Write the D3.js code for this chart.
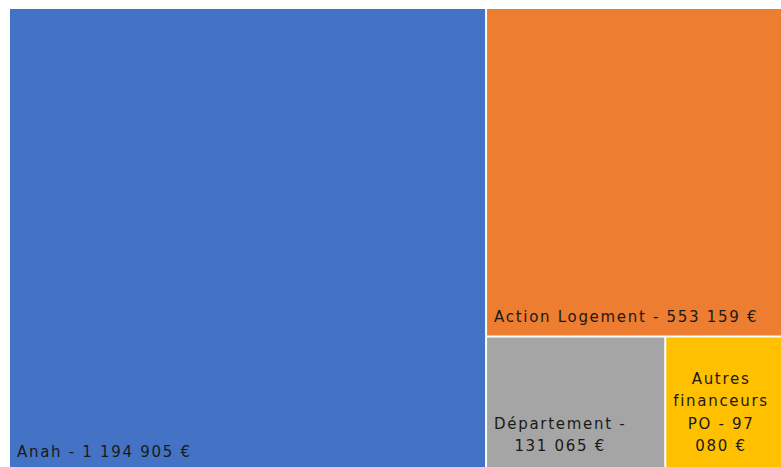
<!DOCTYPE html>
<html><head><meta charset="utf-8">
<script src="https://cdn.jsdelivr.net/npm/d3@7"></script>
<style>
html,body{margin:0;padding:0;background:#fff;overflow:hidden;}
svg{display:block;}
</style></head>
<body>
<svg id="chart" width="781" height="467"></svg>
<script>
const categories = ["Anah", "Action Logement", "Département", "Autres financeurs PO"];
const values = [1194905, 553159, 131065, 97080];
const colors = ["#4472C4", "#ED7D31", "#A5A5A5", "#FFC000"];
const labelLines = [
  ["Anah - 1 194 905 €"],
  ["Action Logement - 553 159 €"],
  ["Département -", "131 065 €"],
  ["Autres", "financeurs", "PO - 97", "080 €"]
];

(function() {
const svg = d3.select("#chart");
const W = 787, H = 462, marginLeft = 10, marginTop = 9;

const root = d3.hierarchy({children: categories.map((c, i) => ({name: c, value: values[i], i}))})
  .sum(d => d.value || 0);
d3.treemap().size([W, H]).tile(d3.treemapSquarify).paddingInner(2).round(false)(root);

const g = svg.append("g").attr("transform", `translate(${marginLeft},${marginTop})`);
const leaves = g.selectAll("g.leaf").data(root.leaves()).join("g").attr("class", "leaf");

leaves.append("rect")
  .attr("x", d => d.x0).attr("y", d => d.y0)
  .attr("width", d => d.x1 - d.x0).attr("height", d => d.y1 - d.y0)
  .attr("fill", d => colors[d.data.i]);

const lineH = 22.5;
leaves.each(function(d) {
  const lines = labelLines[d.data.i];
  const sel = d3.select(this);
  const t = sel.append("text")
    .attr("font-family", "DejaVu Sans, sans-serif")
    .attr("font-size", 15)
    .attr("letter-spacing", "1.7px")
    .attr("fill", "#1a1a1a");
  const spans = lines.map((l) => t.append("tspan").text(l));
  const widths = spans.map(s => s.node().getComputedTextLength());
  const bw = d3.max(widths);
  const bx = d.x0 + 7;
  const lastBase = d.y1 - (lines.length > 1 ? 20 : 14);
  spans.forEach((s, k) => {
    s.attr("x", bx + (bw - widths[k]) / 2)
     .attr("y", lastBase - (lines.length - 1 - k) * lineH);
  });
});
})();
</script>
</body></html>
